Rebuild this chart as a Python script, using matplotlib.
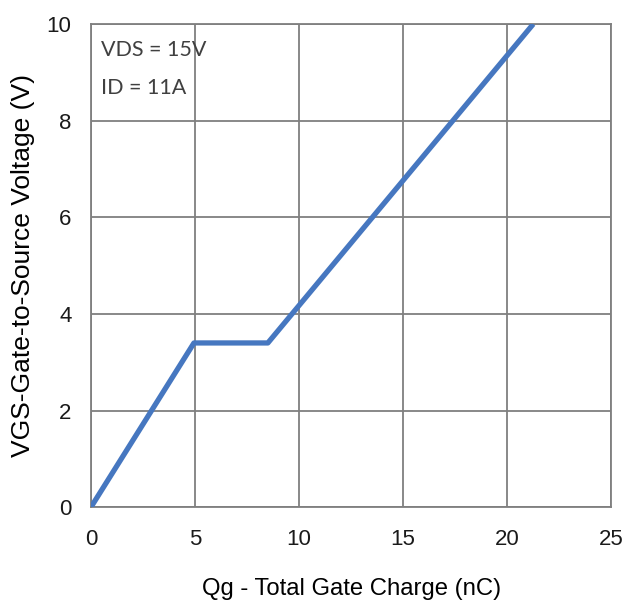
import matplotlib
matplotlib.use('Agg')
import matplotlib.pyplot as plt

# gate charge curve (nC, V)
qg = [0, 4.95, 8.5, 21.25]
vgs = [0, 3.4, 3.4, 10]

xticks = [0, 5, 10, 15, 20, 25]
yticks = [0, 2, 4, 6, 8, 10]

plt.rcParams['font.family'] = ['Liberation Sans', 'DejaVu Sans']

fig = plt.figure(figsize=(6.27, 6.01), dpi=100)
ax = fig.add_axes([0.145, 0.156, 0.83, 0.804])

ax.plot(qg, vgs, color='#4677c0', lw=3.8, solid_capstyle='butt', zorder=3)

ax.set_xlim(0, 25)
ax.set_ylim(0, 10)
ax.set_xticks(xticks)
ax.set_yticks(yticks)
ax.grid(True, color='#7f7f7f', lw=1.3)
ax.tick_params(length=0, labelsize=16, colors='#1a1a1a')
ax.tick_params(axis='x', pad=16)
ax.tick_params(axis='y', pad=14)
for s in ax.spines.values():
    s.set_color('#7f7f7f')
    s.set_linewidth(1.3)

ax.text(0.5, 9.46, 'VDS = 15V', fontsize=15.5, family='Lato', color='#404040', va='center')
ax.text(0.5, 8.67, 'ID = 11A', fontsize=15.5, family='Lato', color='#404040', va='center')

ax.set_xlabel('Qg - Total Gate Charge (nC)', fontsize=17.2, labelpad=20)
ax.set_ylabel('VGS-Gate-to-Source Voltage (V)', fontsize=19, labelpad=8)

plt.savefig('out.png', dpi=100)
